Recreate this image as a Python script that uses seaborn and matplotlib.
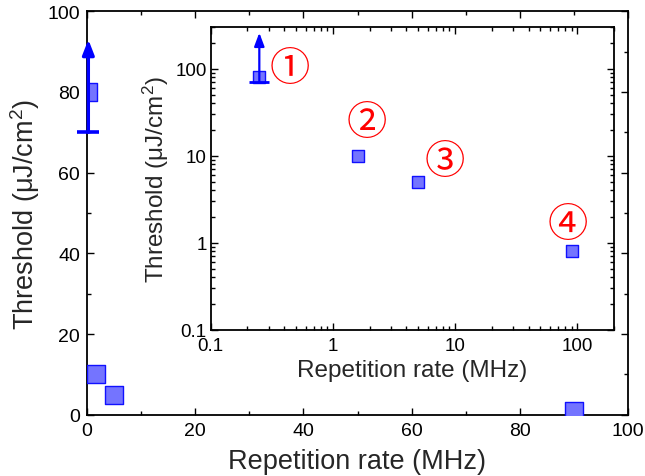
import matplotlib
matplotlib.use("Agg")
import matplotlib.pyplot as plt
import seaborn as sns
import pandas as pd
from matplotlib.ticker import MultipleLocator, LogLocator, NullFormatter, FixedLocator, FixedFormatter

# ---- data ----
rate_mhz = [0.25, 1.6, 5, 90]
threshold = [80, 10, 5, 0.8]
point_labels = ["①", "②", "③", "④"]
lower_bound_rate = [0.25]
lower_bound_value = [70]
arrow_tip_main = [93]
arrow_tip_inset = [260]

df = pd.DataFrame({"rate": rate_mhz, "threshold": threshold})

sns.set_style("ticks")
plt.rcParams["font.family"] = ["Liberation Sans", "DejaVu Sans"]
plt.rcParams["mathtext.fontset"] = "custom"
plt.rcParams["mathtext.rm"] = "Liberation Sans"
plt.rcParams["mathtext.it"] = "Liberation Sans:italic"

fig = plt.figure(figsize=(6.45, 4.77), dpi=100)
W, H = 645, 477

def frac(l, t, r, b):
    return [l / W, 1 - b / H, (r - l) / W, (b - t) / H]

ax = fig.add_axes(frac(87, 12.3, 628, 415.7))
ins = fig.add_axes(frac(210.7, 28.3, 614, 330.7))

face = "#7474ff"
edge = "#1010ff"

# ---- main axes ----
sns.scatterplot(data=df, x="rate", y="threshold", ax=ax, marker="s", s=150,
                color=face, edgecolor=edge, linewidth=1.0, legend=False, zorder=3)
for x, lo, tip in zip(lower_bound_rate, lower_bound_value, arrow_tip_main):
    ax.annotate("", xy=(x, tip), xytext=(x, lo),
                arrowprops=dict(arrowstyle="-|>,head_length=0.9,head_width=0.35",
                                color="blue", lw=2.4, shrinkA=0, shrinkB=0),
                annotation_clip=False, zorder=4)
    ax.plot([x], [lo], marker="_", markersize=16, mew=2.6, color="blue",
            clip_on=False, zorder=4)

ax.set_xlim(0, 100)
ax.set_ylim(0, 100)
ax.xaxis.set_major_locator(MultipleLocator(20))
ax.xaxis.set_minor_locator(MultipleLocator(10))
ax.yaxis.set_major_locator(MultipleLocator(20))
ax.yaxis.set_minor_locator(MultipleLocator(10))
ax.tick_params(which="both", direction="in", top=True, right=True,
               labelsize=14, width=1.0, colors="black", pad=5)
ax.tick_params(which="major", length=5)
ax.tick_params(which="minor", length=3)
ax.set_xlabel("Repetition rate (MHz)", fontsize=19.5, labelpad=7)
ax.set_ylabel("Threshold (μJ/cm$^2$)", fontsize=19.5, labelpad=4)
for sp in ax.spines.values():
    sp.set_linewidth(1.3)
    sp.set_color("black")

# ---- inset ----
sns.scatterplot(data=df, x="rate", y="threshold", ax=ins, marker="s", s=75,
                color=face, edgecolor=edge, linewidth=1.0, legend=False, zorder=3)
for x, lo, tip in zip(lower_bound_rate, lower_bound_value, arrow_tip_inset):
    ins.annotate("", xy=(x, tip), xytext=(x, lo),
                 arrowprops=dict(arrowstyle="-|>,head_length=0.8,head_width=0.3",
                                 color="blue", lw=1.6, shrinkA=0, shrinkB=0),
                 annotation_clip=False, zorder=4)
    ins.plot([x], [lo], marker="_", markersize=15, mew=2.0, color="blue",
             clip_on=False, zorder=4)

offsets = [(22, 6), (6.5, 24), (19, 15), (-3, 19)]
for (x, y, lab, off) in zip(rate_mhz, threshold, point_labels, offsets):
    ins.annotate(lab, xy=(x, y), xytext=off, textcoords="offset points",
                 ha="center", va="center", color="red", fontsize=29,
                 family=["Noto Sans CJK SC", "DejaVu Sans"])

ins.set_xscale("log")
ins.set_yscale("log")
ins.set_xlim(0.1, 200)
ins.set_ylim(0.1, 300)
ins.xaxis.set_major_locator(FixedLocator([0.1, 1, 10, 100]))
ins.xaxis.set_major_formatter(FixedFormatter(["0.1", "1", "10", "100"]))
ins.yaxis.set_major_locator(FixedLocator([0.1, 1, 10, 100]))
ins.yaxis.set_major_formatter(FixedFormatter(["0.1", "1", "10", "100"]))
ins.xaxis.set_minor_locator(LogLocator(base=10, subs=range(2, 10), numticks=20))
ins.yaxis.set_minor_locator(LogLocator(base=10, subs=range(2, 10), numticks=20))
ins.xaxis.set_minor_formatter(NullFormatter())
ins.yaxis.set_minor_formatter(NullFormatter())
ins.tick_params(which="both", direction="in", top=True, right=True,
                labelsize=13.5, width=1.0, colors="black")
ins.tick_params(which="major", length=5)
ins.tick_params(which="minor", length=3)
ins.tick_params(axis="x", pad=5)
ins.tick_params(axis="y", pad=3)
ins.set_xlabel("Repetition rate (MHz)", fontsize=17.5, labelpad=4)
ins.set_ylabel("Threshold (μJ/cm$^2$)", fontsize=17.5, labelpad=3)
for sp in ins.spines.values():
    sp.set_linewidth(1.3)
    sp.set_color("black")

fig.savefig("out.png", dpi=100)
